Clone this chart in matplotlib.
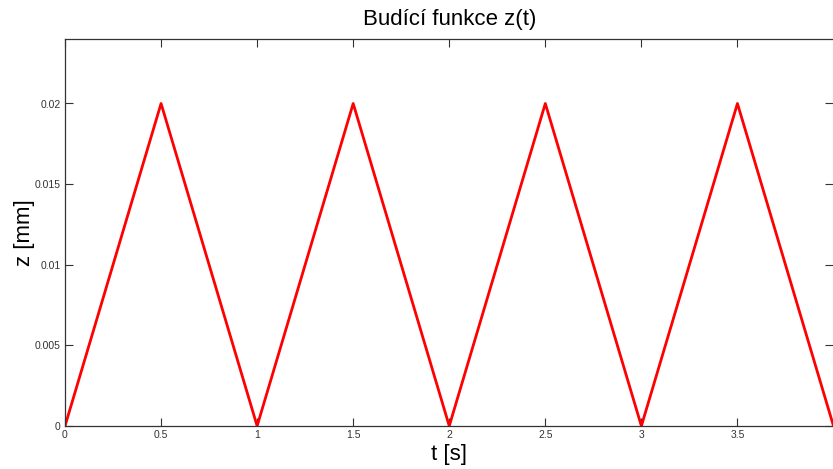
import matplotlib
matplotlib.use('Agg')
import matplotlib.pyplot as plt

# triangle wave corners
t = [0, 0.5, 1, 1.5, 2, 2.5, 3, 3.5, 4]
z = [0, 0.02, 0, 0.02, 0, 0.02, 0, 0.02, 0]
xticks = [0, 0.5, 1, 1.5, 2, 2.5, 3, 3.5]
yticks = [0, 0.005, 0.01, 0.015, 0.02]
ytick_labels = ['0', '0.005', '0.01', '0.015', '0.02']
xtick_labels = ['0', '0.5', '1', '1.5', '2', '2.5', '3', '3.5']

plt.rcParams['font.family'] = ['Liberation Sans', 'DejaVu Sans']

fig = plt.figure(figsize=(8.33, 4.69), dpi=100)
ax = fig.add_axes([65 / 833, 43 / 469, 768.5 / 833, 387 / 469])
ax.plot(t, z, color='red', linewidth=2)

ax.set_xlim(0, 4)
ax.set_ylim(0, 0.024)
ax.set_xticks(xticks)
ax.set_xticklabels(xtick_labels)
ax.set_yticks(yticks)
ax.set_yticklabels(ytick_labels)
ax.tick_params(direction='in', top=True, right=True, length=6, width=0.8,
               labelsize=7.5, colors='#333333', pad=3)
for s in ax.spines.values():
    s.set_color('#333333')
    s.set_linewidth(0.9)
ax.spines['right'].set_visible(False)

ax.set_title('Budící funkce z(t)', fontsize=16, pad=10)
ax.set_xlabel('t [s]', fontsize=16, labelpad=3)
ax.set_ylabel('z [mm]', fontsize=16, labelpad=0)

fig.savefig('out.png', dpi=100)
